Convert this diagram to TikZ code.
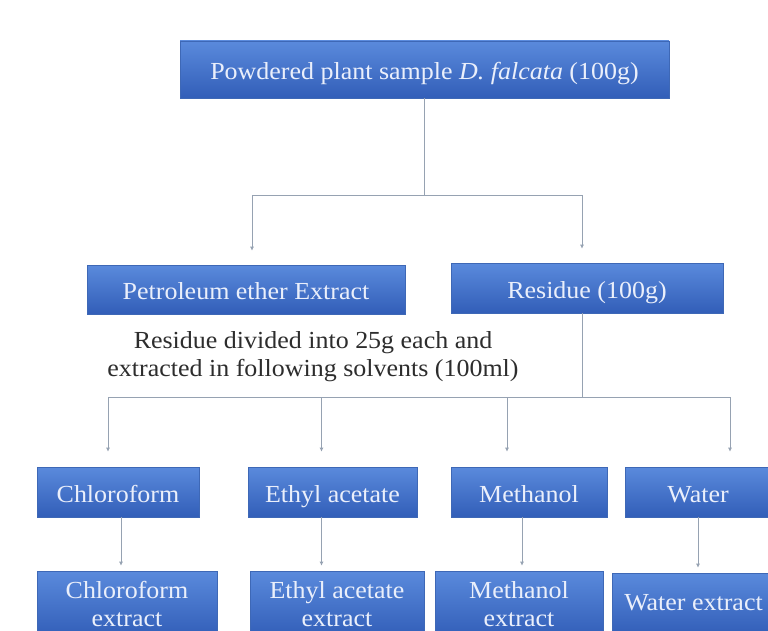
\documentclass[tikz,border=0pt]{standalone}
\usepackage{fontspec}
\setmainfont{Liberation Serif}[FakeStretch=1.06]
\usepackage{xcolor}
\usepackage{tikz}
\usetikzlibrary{positioning,arrows.meta}
\definecolor{boxtop}{RGB}{90,138,220}
\definecolor{boxbot}{RGB}{50,94,184}
\definecolor{boxedge}{RGB}{62,104,182}
\definecolor{boxtext}{RGB}{234,239,251}
\definecolor{linec}{RGB}{150,162,178}
\definecolor{notec}{RGB}{45,45,45}

\begin{document}
\begin{tikzpicture}[x=1pt,y=-1pt,font=\fontsize{24.5}{28}\selectfont,
      box/.style={draw=boxedge,line width=0.6pt,top color=boxtop,bottom color=boxbot,text=boxtext,align=center,inner sep=0pt},
      one/.style={box,text height=20pt,text depth=0pt},
      note/.style={align=center,text=notec,inner sep=0pt},
      ln/.style={draw=linec,line width=0.9pt},
      arr/.style={ln,-{Latex[length=4pt,width=4pt]}}]
    \useasboundingbox (0,0) rectangle (768,631);
    \fill[white] (0,0) rectangle (768,631);
    \clip (0,0) rectangle (768,631);
    \node[one,minimum width=489pt,minimum height=57pt] (sample) at (424.5,69.5) {Powdered plant sample \textit{D. falcata} (100g)};
    \node[one,minimum width=318pt,minimum height=49pt] (petrol) at (246,289.5) {Petroleum ether Extract};
    \node[one,minimum width=272pt,minimum height=50pt] (residue) at (587,288) {Residue (100g)};
    \node[note] (split) at (313,357) {Residue divided into 25g each and\\extracted in following solvents (100ml)};
    \node[one,minimum width=162pt,minimum height=50pt] (chloro) at (118,492) {Chloroform};
    \node[one,minimum width=169pt,minimum height=50pt] (ethyl) at (332.5,492) {Ethyl acetate};
    \node[one,minimum width=156pt,minimum height=50pt] (meth) at (529,492) {Methanol};
    \node[one,minimum width=146pt,minimum height=50pt] (water) at (698,492) {Water};
    \node[box,minimum width=180pt,minimum height=66pt] (chloroext) at (127,604) {Chloroform\\extract};
    \node[box,minimum width=174pt,minimum height=66pt] (ethylext) at (337,604) {Ethyl acetate\\extract};
    \node[box,minimum width=168pt,minimum height=66pt] (methext) at (519,604) {Methanol\\extract};
    \node[one,text depth=8pt,minimum width=163pt,minimum height=62pt] (waterext) at (693.5,604) {Water extract};
    \coordinate (fork1) at (sample.south |- 0,195);
    \coordinate (fork2) at ([xshift=-5pt]residue.south |- 0,397);
    \draw[ln] (sample.south) -- (fork1);
    \draw[arr,shorten >=14pt] (fork1) -| ([xshift=6pt]petrol.north);
    \draw[arr,shorten >=14pt] (fork1) -| ([xshift=-5pt]residue.north);
    \draw[ln] ([xshift=-5pt]residue.south) -- (fork2);
    \foreach \dst/\dx in {chloro/-10,ethyl/-11,meth/-22,water/32} {
      \draw[arr,shorten >=15pt] (fork2) -| ([xshift=\dx pt]\dst.north);
    }
    \foreach \src/\dst/\dx in {chloro/chloroext/3,ethyl/ethylext/-11,meth/methext/-7,water/waterext/0} {
      \draw[arr,shorten >=5pt] ([xshift=\dx pt]\src.south) -- ([xshift=\dx pt]\src.south |- \dst.north);
    }
  \end{tikzpicture}
\end{document}
